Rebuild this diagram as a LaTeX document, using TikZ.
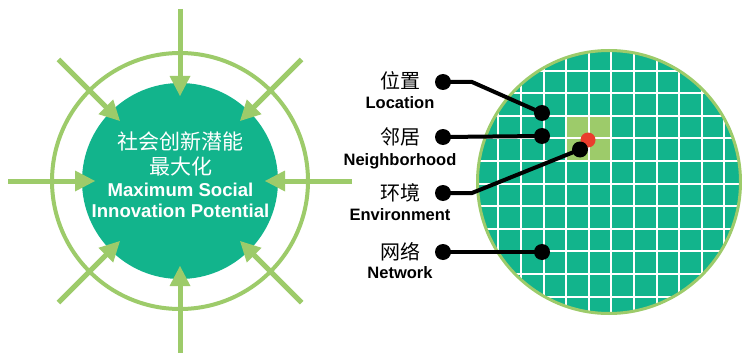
\documentclass[tikz,border=0pt]{standalone}
\usepackage{fontspec}
\setmainfont{Liberation Sans}
\newfontfamily\cjk{Noto Sans CJK SC}
\definecolor{tealfill}{RGB}{18,180,140}
\definecolor{lgreen}{RGB}{157,203,106}
\definecolor{reddot}{RGB}{234,60,45}
\begin{document}
\begin{tikzpicture}[x=1pt,y=-1pt,
  blackdot/.style={circle,fill=black,inner sep=0pt,minimum size=16pt},
  conn/.style={line width=4pt,black},
  zhlabel/.style={font=\cjk\fontsize{20}{24}\selectfont,inner sep=0pt},
  enlabel/.style={font=\bfseries\fontsize{16.5}{18}\selectfont,anchor=base,inner sep=0pt},
  zhwhite/.style={font=\cjk\fontsize{21}{24}\selectfont,text=white,inner sep=0pt},
  enwhite/.style={font=\bfseries\fontsize{18.6}{20}\selectfont,text=white,anchor=base,inner sep=0pt},
  grid line/.style={white,line width=2pt}]
\useasboundingbox (0,0) rectangle (742,353);

% ---------- left: target circle ----------
\coordinate (lc) at (180,181);
\draw[lgreen,line width=4pt] (lc) circle[radius=128];
\fill[tealfill] (lc) circle[radius=98];
\begin{scope}[shift={(180,181)}]
  \foreach \a in {0,45,...,315} {
    \draw[lgreen,line width=5pt] (\a:172) -- (\a:100);
    \fill[lgreen] (\a:85) -- ([shift={(\a+90:10.5)}]\a:105) -- ([shift={(\a-90:10.5)}]\a:105) -- cycle;
  }
\end{scope}
\node[zhwhite] (t1) at (180.5,141.5) {社会创新潜能};
\node[zhwhite] (t2) at (180.5,166.5) {最大化};
\node[enwhite] (t3) at (180.5,196) {Maximum Social};
\node[enwhite] (t4) at (180.5,217.7) {Innovation Potential};

% ---------- right: grid circle ----------
\begin{scope}
  \clip (609,182) circle[radius=131];
  \fill[tealfill] (609,182) circle[radius=132];
  \fill[lgreen] (566.1,115.8) rectangle (611.3,161);
  \foreach \k in {-1,...,11} {
    \draw[grid line] ({498.3+22.6*\k},40) -- ({498.3+22.6*\k},330);
    \draw[grid line] (470,{70.6+22.6*\k}) -- (750,{70.6+22.6*\k});
  }
\end{scope}
\draw[lgreen,line width=3pt] (609,182) circle[radius=131.5];

\node[circle,fill=reddot,inner sep=0pt,minimum size=15pt] (red) at (588,140) {};

% dots
\node[blackdot] (l1) at (443,82) {};
\node[blackdot] (l2) at (443,137) {};
\node[blackdot] (l3) at (443,193) {};
\node[blackdot] (l4) at (443,252) {};
\node[blackdot] (r1) at (542,113) {};
\node[blackdot] (r2) at (542,136) {};
\node[blackdot] (r3) at (580,149.5) {};
\node[blackdot] (r4) at (542,252) {};

\coordinate (k1) at (472,82);
\coordinate (k3) at (472,193);
\draw[conn] (l1.center) -- (k1) -- (r1.center);
\draw[conn] (l2.center) -- (r2.center);
\draw[conn] (l3.center) -- (k3) -- (r3.center);
\draw[conn] (l4.center) -- (r4.center);

% labels
\node[zhlabel] (z1) at (400,81) {位置};
\node[enlabel] (e1) at (400,108.3) {Location};
\node[zhlabel] (z2) at (400,137) {邻居};
\node[enlabel] (e2) at (400,165) {Neighborhood};
\node[zhlabel] (z3) at (400,193) {环境};
\node[enlabel] (e3) at (400,220) {Environment};
\node[zhlabel] (z4) at (400,252) {网络};
\node[enlabel] (e4) at (400,278) {Network};
\end{tikzpicture}
\end{document}
